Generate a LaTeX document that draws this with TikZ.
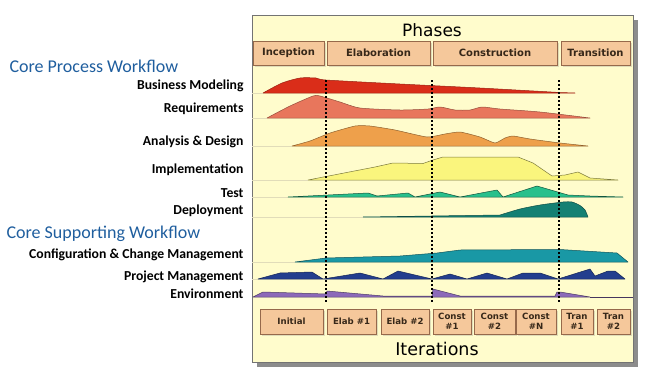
\documentclass[tikz,border=0pt]{standalone}
\usepackage{fontspec}
\setmainfont{Carlito}
\newfontfamily\panelfont{DejaVu Sans}
\usetikzlibrary{shadows}
\definecolor{panelbg}{RGB}{255,252,204}
\definecolor{boxfill}{RGB}{245,200,155}
\definecolor{boxline}{RGB}{150,105,75}
\definecolor{boxtext}{RGB}{55,40,25}
\definecolor{headblue}{RGB}{31,94,158}
\definecolor{faint}{RGB}{225,220,185}
\definecolor{bizred}{RGB}{218,45,25}
\definecolor{reqsalmon}{RGB}{232,118,92}
\definecolor{anaorange}{RGB}{238,160,75}
\definecolor{impyellow}{RGB}{250,245,125}
\definecolor{testgreen}{RGB}{40,192,140}
\definecolor{depteal}{RGB}{20,128,115}
\definecolor{cfgcyan}{RGB}{25,152,165}
\definecolor{pmblue}{RGB}{35,62,142}
\definecolor{envpurple}{RGB}{140,105,185}
\tikzset{
  phasebox/.style={draw=boxline, fill=boxfill, inner sep=0pt, minimum height=24pt,
    font=\panelfont\bfseries\fontsize{10}{11}\selectfont, text=boxtext,
    drop shadow={shadow xshift=1.5pt, shadow yshift=-2pt, opacity=0.25}},
  iterbox/.style={phasebox, minimum height=25pt, align=center,
    font=\panelfont\bfseries\fontsize{8.6}{10}\selectfont},
  flowname/.style={anchor=east, font=\bfseries\fontsize{13.7}{15}\selectfont},
  flowhead/.style={anchor=west, text=headblue, font=\fontsize{18}{19}\selectfont},
  boundary/.style={line width=1.6pt, dash pattern=on 2pt off 2pt},
  flow/.style={line width=0.5pt, line join=round}
}
\begin{document}
\begin{tikzpicture}[x=1pt,y=-1pt]
\useasboundingbox (0,0) rectangle (648,375);
% panel
\fill[black!45] (257,20) rectangle (638,367); %shadow
\draw[black!55, fill=panelbg] (252,15) rectangle (633,362); %panel
\node[font=\panelfont\fontsize{17}{18}\selectfont] (phases) at (432,30) {Phases};
\node[font=\panelfont\fontsize{17.5}{18}\selectfont] (iterations) at (437,349) {Iterations};
% phase boxes
\node[phasebox, minimum width=71pt] (inception) at (288.5,53) {Inception};
\node[phasebox, minimum width=103pt] (elaboration) at (378.5,53) {Elaboration};
\node[phasebox, minimum width=124pt] (construction) at (495,53) {Construction};
\node[phasebox, minimum width=69pt] (transition) at (595.5,53) {Transition};
% iteration boxes
\node[iterbox, minimum width=63pt] (initial) at (291.5,321.5) {Initial};
\node[iterbox, minimum width=49pt] (elab1) at (351.5,321.5) {Elab \#1};
\node[iterbox, minimum width=48pt] (elab2) at (405,321.5) {Elab \#2};
\node[iterbox, minimum width=38pt] (const1) at (452,321.5) {Const\\\#1};
\node[iterbox, minimum width=41pt] (const2) at (494.5,321.5) {Const\\\#2};
\node[iterbox, minimum width=40pt] (constn) at (536,321.5) {Const\\\#N};
\node[iterbox, minimum width=32pt] (tran1) at (577,321.5) {Tran\\\#1};
\node[iterbox, minimum width=33pt] (tran2) at (613.5,321.5) {Tran\\\#2};
% faint baselines
\foreach \y/\x in {93/263,118/267,146/292,180/308,197/288,217/363,262/295,279/258}
  \draw[faint] (252,\y) -- (\x,\y);
% business modeling
\draw[flow, draw=bizred!70!black, fill=bizred] plot[smooth, tension=0.4] coordinates {(263,93) (282,83) (300,78) (316,78) (326,80) (400,84) (480,88) (560,92.5)} -- (575,93) -- cycle; %bm
% requirements
\draw[flow, draw=reqsalmon!65!black, fill=reqsalmon] plot[smooth, tension=0.4] coordinates {(267,118) (290,106) (313,96) (320,96) (340,102) (360,108) (400,110) (428,109) (440,107) (455,110) (470,110) (482,107) (500,109) (540,112) (590,118)} -- cycle; %req
% analysis & design
\draw[flow, draw=anaorange!60!black, fill=anaorange] plot[smooth, tension=0.3] coordinates {(292,146) (310,141) (330,133) (355,126) (370,126) (395,130) (427,137) (445,134) (460,132) (480,137) (495,143) (505,138) (513,136) (530,139) (560,143) (588,146)} -- cycle; %a&d
% implementation
\draw[flow, draw=impyellow!50!black, fill=impyellow] (308,180) -- (375,167) -- (393,163) -- (423,163.5) -- (433,160) -- (443,157) -- (518,157) -- (533,163) -- (552,176) -- (565,175) -- (578,172) -- (590,178) -- (618,180) -- cycle; %impl
% test
\draw[flow, draw=testgreen!45!black, fill=testgreen] (288,197) -- (368,193) -- (377,196) -- (408,193) -- (415,197) -- (440,192) -- (460,197) -- (497,190) -- (503,197) -- (537,186) -- (568,195) -- (590,196) -- (623,197) -- cycle; %test
% deployment
\draw[flow, draw=depteal!60!black, fill=depteal] plot[smooth, tension=0.4] coordinates {(500,215) (520,209) (540,205) (563,202) (572,202) (580,205.5) (585,210) (588,217)} -- (363,217) -- cycle; %deploy
% configuration & change management
\draw[flow, draw=cfgcyan!55!black, fill=cfgcyan] (295,262) -- (326,258) -- (400,256) -- (437,253) -- (460,250) -- (560,249.5) -- (617,253) -- (628,262) -- cycle; %ccm
% project management
\draw[flow, draw=pmblue!60!black, fill=pmblue] (258,279) -- (280,273) -- (312,272) -- (323,279) -- (360,273) -- (383,279) -- (398,271) -- (432,279) -- (450,274) -- (467,279) -- (487,273) -- (507,279) -- (523,273) -- (540,273) -- (558,279) -- (590,269) -- (595,276) -- (608,271) -- (615,271) -- (625,279) -- cycle; %pm
% environment
\draw[flow, draw=envpurple!55!black, fill=envpurple] (253,297) -- (263,292) -- (326,294) -- (327,291) -- (383,296) -- (432,296) -- (433,289) -- (460,296) -- (555,296) -- (557,292) -- (560,292) -- (590,297) -- cycle; %env
\draw[envpurple!50!black, line width=0.5pt] (590,297) -- (633,297); %env tail
% phase boundaries
\foreach \x in {326,432,559}
  \draw[boundary] (\x,80) -- (\x,302);
% workflow names
\node[flowhead] (coreproc) at (6,66) {Core Process Workflow};
\node[flowname] (bizmod) at (247,86) {Business Modeling};
\node[flowname] (reqs) at (247,109) {Requirements};
\node[flowname] (anadesign) at (247,142) {Analysis \& Design};
\node[flowname] (impl) at (247,170) {Implementation};
\node[flowname] (test) at (247,193) {Test};
\node[flowname] (deploy) at (247,211) {Deployment};
\node[flowhead] (coresupp) at (3,234) {Core Supporting Workflow};
\node[flowname] (ccm) at (247,255) {Configuration \& Change Management};
\node[flowname] (projmgmt) at (247,277) {Project Management};
\node[flowname] (environ) at (247,294) {Environment};
\end{tikzpicture}
\end{document}
